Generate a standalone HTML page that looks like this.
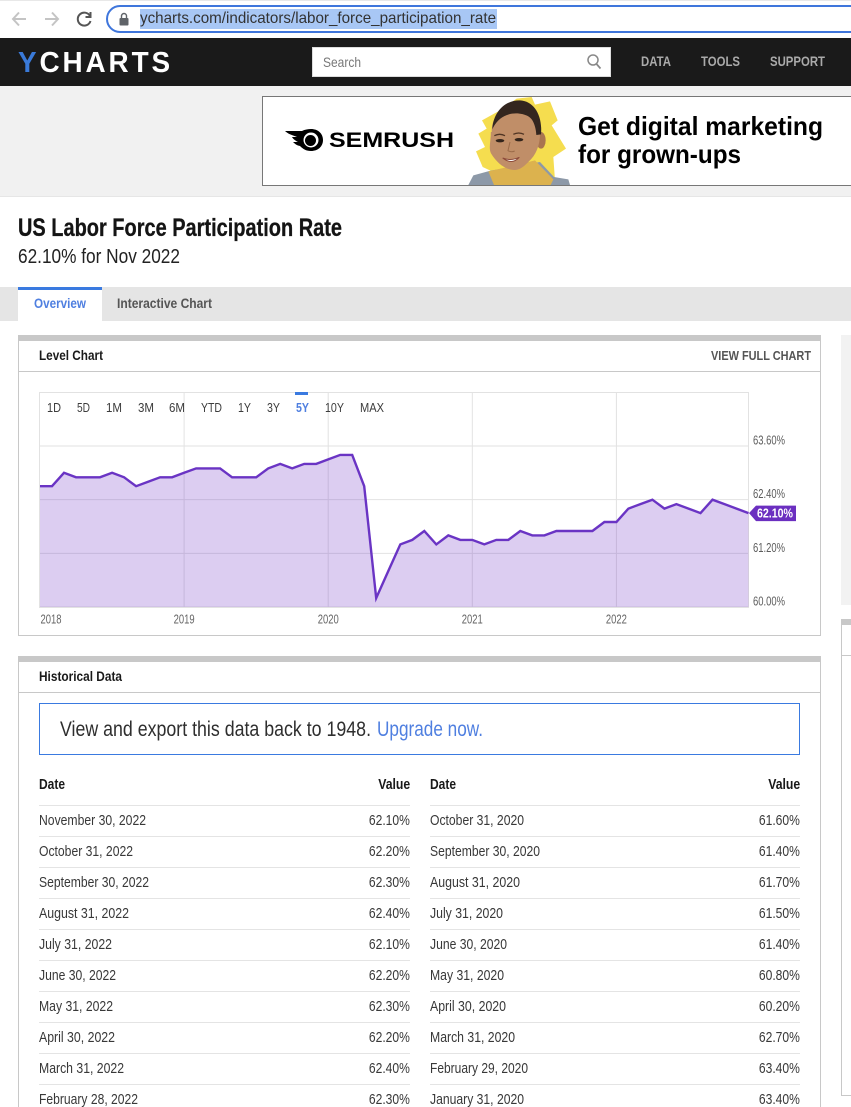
<!DOCTYPE html>
<html lang="en">
<head>
<meta charset="utf-8">
<title>US Labor Force Participation Rate</title>
<style>
html{margin:0;padding:0;background:#fff;width:851px;height:1107px;overflow:hidden}
body{margin:0;padding:0;background:#fff;position:relative;width:851px;height:1107px;overflow:hidden;font-family:"Liberation Sans Narrow","Liberation Sans",sans-serif;color:#333}
.b{position:absolute;box-sizing:border-box}
.t{position:absolute;white-space:nowrap;transform-origin:0 50%;line-height:20px;height:20px}
.r{transform-origin:100% 50%}
.bold{font-weight:bold}
.d{font-size:15px;color:#383838}
.h{font-size:15px;font-weight:bold;color:#1a1a1a}
.rule{position:absolute;height:1px;background:#e4e4e4}
.rng{font-size:13px;color:#3c3c3c}
</style>
</head>
<body>

<div class="b" style="left:0;top:0;width:851px;height:38px;background:#fff;border-top:1px solid #e8e8e8"></div>
<svg class="b" style="left:8px;top:6px" width="90" height="26" viewBox="0 0 90 26">
<path d="M18 13H5M11 6.500L5 13l6 6.500" fill="none" stroke="#c4c4c4" stroke-width="2"/>
<path d="M37 13h13M44 6.500L50 13l-6 6.500" fill="none" stroke="#c4c4c4" stroke-width="2"/>
<path d="M82 10a6.500 6.500 0 1 0 .5 5M82.500 6v5h-5" fill="none" stroke="#555" stroke-width="2"/>
</svg>
<div class="b" style="left:106px;top:5px;width:760px;height:28px;border:2px solid #3f76dc;border-radius:14px;background:#fff"></div>
<svg class="b" style="left:118px;top:12px" width="12" height="14" viewBox="0 0 12 14"><rect x="1.500" y="6" width="9" height="7.500" rx="1" fill="#5f6368"/><path d="M3.500 6V4a2.500 2.500 0 0 1 5 0v2" fill="none" stroke="#5f6368" stroke-width="1.400"/></svg>
<div class="b" style="left:140px;top:9px;width:357px;height:20px;background:#a8c7f5"></div>
<div class="t" data-fit="356" style="left:140px;top:9px;font-size:16px;font-family:'Liberation Sans',sans-serif;color:#333">ycharts.com/indicators/labor_force_participation_rate</div>

<div class="b" style="left:0;top:38px;width:851px;height:48px;background:#1a1a1a"></div>
<div class="t" data-fit="155" style="left:18px;top:53px;font-size:29px;line-height:20px;font-weight:bold;font-family:'Liberation Sans',sans-serif;color:#fff;letter-spacing:3px"><span style="color:#3a7ad9">Y</span>CHARTS</div>
<div class="b" style="left:312px;top:47px;width:299px;height:30px;background:#fff;border:1px solid #ddd"></div>
<div class="t" style="left:323px;top:52px;font-size:14px;color:#777" data-fit="38">Search</div>
<svg class="b" style="left:586px;top:53px" width="16" height="17" viewBox="0 0 16 17"><circle cx="7" cy="7" r="5" fill="none" stroke="#888" stroke-width="1.500"/><path d="M10.500 11l4 4.500" stroke="#888" stroke-width="1.700"/></svg>
<div class="t bold" data-fit="30" style="left:641px;top:51px;font-size:14px;color:#aaa">DATA</div>
<div class="t bold" data-fit="39" style="left:701px;top:51px;font-size:14px;color:#aaa">TOOLS</div>
<div class="t bold" data-fit="55" style="left:770px;top:51px;font-size:14px;color:#aaa">SUPPORT</div>

<div class="b" style="left:0;top:86px;width:851px;height:111px;background:#f1f1f1;border-bottom:1px solid #e6e6e6"></div>
<div class="b" style="left:262px;top:96px;width:600px;height:90px;background:#fff;border:1px solid #777"></div>
<svg class="b" style="left:284px;top:128px" width="42" height="24" viewBox="0 0 42 24">
<path d="M1 3h17c3-1.500 6-2 9-2 7 0 12 4.500 12 11s-5 11-12 11c-5 0-8-2-11-5-3-.5-5-2-7-4h5c-2-1-5-3-6-5h5C8 7 4 6 1 3z" fill="#000"/>
<circle cx="27" cy="12" r="7.500" fill="#fff"/><circle cx="26.500" cy="12.500" r="5.500" fill="#000"/>
</svg>
<div class="t bold" data-fit="125" style="left:329px;top:131px;font-size:21px;font-family:'Liberation Sans',sans-serif;color:#000">SEMRUSH</div>
<svg class="b" style="left:460px;top:92px" width="120" height="93" viewBox="0 0 360 279">
<polygon points="170,20 215,15 225,38 270,28 293,85 275,100 318,170 280,195 285,265 100,240 68,225 48,178 75,165 55,125 80,110 66,85 120,55" fill="#f5dd4f"/>
<path d="M25 279L40 250 92 236 240 210 282 255 325 262 330 279z" fill="#8d99a8"/>
<polygon points="85,238 130,228 225,205 280,262 272,279 102,279" fill="#dcb24e"/>
<ellipse cx="243" cy="145" rx="14" ry="25" fill="#a97450"/>
<path d="M95 120C95 70 125 50 165 50c45 0 75 25 75 75 0 35-12 65-35 85-14 14-26 24-42 24-25 0-52-20-70-50-8-15-0-40-.5-64z" fill="#c08e68"/>
<path d="M97 112C100 55 140 24 180 25c42 2 68 45 63 102l-14 2c-2-28-10-48-24-56-30-16-85-14-108 39z" fill="#33261f"/>
<ellipse cx="120" cy="146" rx="13" ry="5" fill="#33241b"/><ellipse cx="177" cy="143" rx="13" ry="5" fill="#33241b"/>
<path d="M103 131q16-8 32 0M160 127q16-8 32 0" fill="none" stroke="#4f3423" stroke-width="4"/>
<path d="M128 198q24 10 50-2q-22 24-50 2z" fill="#fff" stroke="#8c4a3a" stroke-width="3"/>
<path d="M150 150l-6 26q10 6 20 1" fill="none" stroke="#9b6b49" stroke-width="3"/>
</svg>
<div class="t bold" data-fit="245" style="left:578px;top:116px;font-size:26px;font-family:'Liberation Sans',sans-serif;color:#000">Get digital marketing</div>
<div class="t bold" data-fit="163" style="left:578px;top:144px;font-size:26px;font-family:'Liberation Sans',sans-serif;color:#000">for grown-ups</div>

<div class="t bold" data-fit="324" style="left:18px;top:218px;font-size:25px;color:#141414;-webkit-text-stroke:.3px #141414">US Labor Force Participation Rate</div>
<div class="t" data-fit="162" style="left:18px;top:247px;font-size:20px;color:#222">62.10% for Nov 2022</div>

<div class="b" style="left:0;top:287px;width:851px;height:34px;background:#e5e5e5"></div>
<div class="b" style="left:18px;top:287px;width:84px;height:34px;background:#fff;border-top:3px solid #3a7ae0"></div>
<div class="t bold" data-fit="52" style="left:34px;top:293px;font-size:14px;color:#4f7fe0">Overview</div>
<div class="t bold" data-fit="95" style="left:117px;top:293px;font-size:14px;color:#555">Interactive Chart</div>

<div class="b" style="left:18px;top:335px;width:803px;height:301px;border:1px solid #c8c8c8;border-top:6px solid #c8c8c8;background:#fff"></div>
<div class="rule" style="left:19px;top:371px;width:801px;background:#c8c8c8"></div>
<div class="t bold" data-fit="64" style="left:39px;top:345px;font-size:14px;color:#1a1a1a">Level Chart</div>
<div class="t bold" data-fit="100" style="left:711px;top:346px;font-size:13px;color:#555">VIEW FULL CHART</div>

<svg id="chart" class="b" style="left:30px;top:385px" width="780" height="245" viewBox="30 385 780 245" font-family="'Liberation Sans Narrow','Liberation Sans',sans-serif"></svg>

<div class="t rng" style="left:47px;top:398px" data-fit="14">1D</div>
<div class="t rng" style="left:77px;top:398px" data-fit="13">5D</div>
<div class="t rng" style="left:106px;top:398px" data-fit="16">1M</div>
<div class="t rng" style="left:138px;top:398px" data-fit="16">3M</div>
<div class="t rng" style="left:169px;top:398px" data-fit="16">6M</div>
<div class="t rng" style="left:201px;top:398px" data-fit="21">YTD</div>
<div class="t rng" style="left:238px;top:398px" data-fit="13">1Y</div>
<div class="t rng" style="left:267px;top:398px" data-fit="13">3Y</div>
<div class="b" style="left:295px;top:392px;width:13px;height:3px;background:#3a7ae0"></div>
<div class="t rng bold" style="left:296px;top:398px;color:#4f7fe0" data-fit="13">5Y</div>
<div class="t rng" style="left:325px;top:398px" data-fit="19">10Y</div>
<div class="t rng" style="left:360px;top:398px" data-fit="24">MAX</div>

<div class="b" style="left:841px;top:335px;width:10px;height:270px;background:#f2f2f2"></div>
<div class="b" style="left:841px;top:619px;width:12px;height:477px;border:1px solid #c8c8c8;border-top:6px solid #c8c8c8;background:#fff"></div>
<div class="rule" style="left:842px;top:655px;width:9px;background:#c8c8c8"></div>

<div class="b" style="left:18px;top:656px;width:803px;height:470px;border:1px solid #c8c8c8;border-top:6px solid #c8c8c8;background:#fff"></div>
<div class="rule" style="left:19px;top:692px;width:801px;background:#c8c8c8"></div>
<div class="t bold" data-fit="83" style="left:39px;top:666px;font-size:14px;color:#1a1a1a">Historical Data</div>

<div class="b" style="left:39px;top:703px;width:761px;height:52px;border:1px solid #3a7ae0"></div>
<div class="t" data-fit="311" style="left:60px;top:720px;font-size:21px;color:#2e2e2e">View and export this data back to 1948.</div>
<div class="t" data-fit="106" style="left:377px;top:720px;font-size:21px;color:#4f7fe0">Upgrade now.</div>

<div class="t h" style="left:39px;top:775px" data-fit="26">Date</div>
<div class="t h r" style="right:441px;top:775px" data-fit="32">Value</div>
<div class="t h" style="left:430px;top:775px" data-fit="26">Date</div>
<div class="t h r" style="right:51px;top:775px" data-fit="32">Value</div>

<div class="rule" style="left:39px;top:805px;width:371px"></div><div class="rule" style="left:430px;top:805px;width:370px"></div>
<div class="rule" style="left:39px;top:836px;width:371px"></div><div class="rule" style="left:430px;top:836px;width:370px"></div>
<div class="rule" style="left:39px;top:867px;width:371px"></div><div class="rule" style="left:430px;top:867px;width:370px"></div>
<div class="rule" style="left:39px;top:898px;width:371px"></div><div class="rule" style="left:430px;top:898px;width:370px"></div>
<div class="rule" style="left:39px;top:929px;width:371px"></div><div class="rule" style="left:430px;top:929px;width:370px"></div>
<div class="rule" style="left:39px;top:960px;width:371px"></div><div class="rule" style="left:430px;top:960px;width:370px"></div>
<div class="rule" style="left:39px;top:991px;width:371px"></div><div class="rule" style="left:430px;top:991px;width:370px"></div>
<div class="rule" style="left:39px;top:1022px;width:371px"></div><div class="rule" style="left:430px;top:1022px;width:370px"></div>
<div class="rule" style="left:39px;top:1053px;width:371px"></div><div class="rule" style="left:430px;top:1053px;width:370px"></div>
<div class="rule" style="left:39px;top:1084px;width:371px"></div><div class="rule" style="left:430px;top:1084px;width:370px"></div>

<div class="t d" style="left:39px;top:811px" data-fit="107">November 30, 2022</div><div class="t d r" style="right:441px;top:811px" data-fit="41">62.10%</div>
<div class="t d" style="left:39px;top:842px" data-fit="94">October 31, 2022</div><div class="t d r" style="right:441px;top:842px" data-fit="41">62.20%</div>
<div class="t d" style="left:39px;top:873px" data-fit="110">September 30, 2022</div><div class="t d r" style="right:441px;top:873px" data-fit="41">62.30%</div>
<div class="t d" style="left:39px;top:904px" data-fit="90">August 31, 2022</div><div class="t d r" style="right:441px;top:904px" data-fit="41">62.40%</div>
<div class="t d" style="left:39px;top:935px" data-fit="73">July 31, 2022</div><div class="t d r" style="right:441px;top:935px" data-fit="41">62.10%</div>
<div class="t d" style="left:39px;top:966px" data-fit="77">June 30, 2022</div><div class="t d r" style="right:441px;top:966px" data-fit="41">62.20%</div>
<div class="t d" style="left:39px;top:997px" data-fit="74">May 31, 2022</div><div class="t d r" style="right:441px;top:997px" data-fit="41">62.30%</div>
<div class="t d" style="left:39px;top:1028px" data-fit="76">April 30, 2022</div><div class="t d r" style="right:441px;top:1028px" data-fit="41">62.20%</div>
<div class="t d" style="left:39px;top:1059px" data-fit="85">March 31, 2022</div><div class="t d r" style="right:441px;top:1059px" data-fit="41">62.40%</div>
<div class="t d" style="left:39px;top:1090px" data-fit="99">February 28, 2022</div><div class="t d r" style="right:441px;top:1090px" data-fit="41">62.30%</div>

<div class="t d" style="left:430px;top:811px" data-fit="94">October 31, 2020</div><div class="t d r" style="right:51px;top:811px" data-fit="41">61.60%</div>
<div class="t d" style="left:430px;top:842px" data-fit="110">September 30, 2020</div><div class="t d r" style="right:51px;top:842px" data-fit="41">61.40%</div>
<div class="t d" style="left:430px;top:873px" data-fit="90">August 31, 2020</div><div class="t d r" style="right:51px;top:873px" data-fit="41">61.70%</div>
<div class="t d" style="left:430px;top:904px" data-fit="73">July 31, 2020</div><div class="t d r" style="right:51px;top:904px" data-fit="41">61.50%</div>
<div class="t d" style="left:430px;top:935px" data-fit="77">June 30, 2020</div><div class="t d r" style="right:51px;top:935px" data-fit="41">61.40%</div>
<div class="t d" style="left:430px;top:966px" data-fit="74">May 31, 2020</div><div class="t d r" style="right:51px;top:966px" data-fit="41">60.80%</div>
<div class="t d" style="left:430px;top:997px" data-fit="76">April 30, 2020</div><div class="t d r" style="right:51px;top:997px" data-fit="41">60.20%</div>
<div class="t d" style="left:430px;top:1028px" data-fit="85">March 31, 2020</div><div class="t d r" style="right:51px;top:1028px" data-fit="41">62.70%</div>
<div class="t d" style="left:430px;top:1059px" data-fit="98">February 29, 2020</div><div class="t d r" style="right:51px;top:1059px" data-fit="41">63.40%</div>
<div class="t d" style="left:430px;top:1090px" data-fit="94">January 31, 2020</div><div class="t d r" style="right:51px;top:1090px" data-fit="41">63.40%</div>

<script>
const months = ['2017-12','2018-01','2018-02','2018-03','2018-04','2018-05','2018-06','2018-07','2018-08','2018-09','2018-10','2018-11','2018-12','2019-01','2019-02','2019-03','2019-04','2019-05','2019-06','2019-07','2019-08','2019-09','2019-10','2019-11','2019-12','2020-01','2020-02','2020-03','2020-04','2020-05','2020-06','2020-07','2020-08','2020-09','2020-10','2020-11','2020-12','2021-01','2021-02','2021-03','2021-04','2021-05','2021-06','2021-07','2021-08','2021-09','2021-10','2021-11','2021-12','2022-01','2022-02','2022-03','2022-04','2022-05','2022-06','2022-07','2022-08','2022-09','2022-10','2022-11'];
const rates = [62.7,62.7,63.0,62.9,62.9,62.9,63.0,62.9,62.7,62.8,62.9,62.9,63.0,63.1,63.1,63.1,62.9,62.9,62.9,63.1,63.2,63.1,63.2,63.2,63.3,63.4,63.4,62.7,60.2,60.8,61.4,61.5,61.7,61.4,61.6,61.5,61.5,61.4,61.5,61.5,61.7,61.6,61.6,61.7,61.7,61.7,61.7,61.9,61.9,62.2,62.3,62.4,62.2,62.3,62.2,62.1,62.4,62.3,62.2,62.1];
const yTicks = [60, 61.2, 62.4, 63.6];
const yearTicks = ['2018','2019','2020','2021','2022'];

const svg = document.getElementById('chart');
const NS = 'http://www.w3.org/2000/svg';
const plot = {l:40, r:748.5, t:392, b:607};
const yMin = yTicks[0];
const yMax = yTicks[yTicks.length-1];
const yMaxPx = 446;
function xScale(i){ return plot.l + i*(plot.r-plot.l)/(months.length-1); }
function yScale(v){ return plot.b - (v-yMin)*(plot.b-yMaxPx)/(yMax-yMin); }
function yearIndex(y){ return months.indexOf((Number(y)-1)+'-12'); }
function add(tag){ const e = document.createElementNS(NS, tag); svg.appendChild(e); return e; }
function pct(v){ return v.toFixed(2)+'%'; }

const frame = add('rect');


frame.setAttribute('x', plot.l-.5);
frame.setAttribute('y', plot.t+.5);
frame.setAttribute('width', plot.r-plot.l+.5);
frame.setAttribute('height', plot.b-plot.t);
frame.setAttribute('fill', '#fff');
frame.setAttribute('stroke', '#e2e2e2');

yTicks.forEach(function(v){
  const y = yScale(v);
  const g = add('line');
  
  
  g.setAttribute('x1', plot.l);
  g.setAttribute('x2', plot.r);
  g.setAttribute('y1', y);
  g.setAttribute('y2', y);
  g.setAttribute('stroke', '#e2e2e2');
  const t = add('text');
  
  
  t.setAttribute('x', 753);
  t.setAttribute('y', y-1.5);
  t.setAttribute('font-size', '13');
  t.setAttribute('fill', '#5c5c5c');
  t.setAttribute('textLength', '32');
  t.setAttribute('lengthAdjust', 'spacingAndGlyphs');
  t.textContent = pct(v);
});

yearTicks.forEach(function(label, k){
  const x = xScale(yearIndex(label));
  if (k > 0) {
    const g = add('line');
    
    
    g.setAttribute('x1', x);
    g.setAttribute('x2', x);
    g.setAttribute('y1', plot.t);
    g.setAttribute('y2', plot.b);
    g.setAttribute('stroke', '#e2e2e2');
  }
  const t = add('text');
  
  
  t.setAttribute('x', k === 0 ? x+11 : x);
  t.setAttribute('y', 623.500);
  t.setAttribute('text-anchor', 'middle');
  t.setAttribute('font-size', '13');
  t.setAttribute('fill', '#666');
  t.setAttribute('textLength', '21');
  t.setAttribute('lengthAdjust', 'spacingAndGlyphs');
  t.textContent = label;
});

const pts = rates.map(function(v, i){ return xScale(i).toFixed(1)+','+yScale(v).toFixed(1); });
const area = add('polygon');


area.setAttribute('points', plot.l+','+plot.b+' '+pts.join(' ')+' '+plot.r+','+plot.b);
area.setAttribute('fill', '#6b2fc4');
area.setAttribute('fill-opacity', '0.24');

const line = add('polyline');


line.setAttribute('points', pts.join(' '));
line.setAttribute('fill', 'none');
line.setAttribute('stroke', '#6a34c4');
line.setAttribute('stroke-width', '2.400');

const lastVal = rates[rates.length-1];
const ly = yScale(lastVal);
const badge = add('polygon');


badge.setAttribute('points', [[749,ly],[756,ly-7.5],[796,ly-7.5],[796,ly+8],[756,ly+8]].map(function(p){return p.join(',');}).join(' '));
badge.setAttribute('fill', '#6b2fc0');
const bt = add('text');


bt.setAttribute('x', 757);
bt.setAttribute('y', ly+4.5);
bt.setAttribute('font-size', '13');
bt.setAttribute('font-weight', 'bold');
bt.setAttribute('fill', '#fff');
bt.setAttribute('textLength', '36');
bt.setAttribute('lengthAdjust', 'spacingAndGlyphs');
bt.textContent = pct(lastVal);

document.querySelectorAll('[data-fit]').forEach(function(el){
  const w = el.getBoundingClientRect().width;
  const target = Number(el.getAttribute('data-fit'));
  if (w > 0) el.style.transform = 'scaleX(' + (target/w).toFixed(4) + ')';
});
</script>
</body>
</html>
